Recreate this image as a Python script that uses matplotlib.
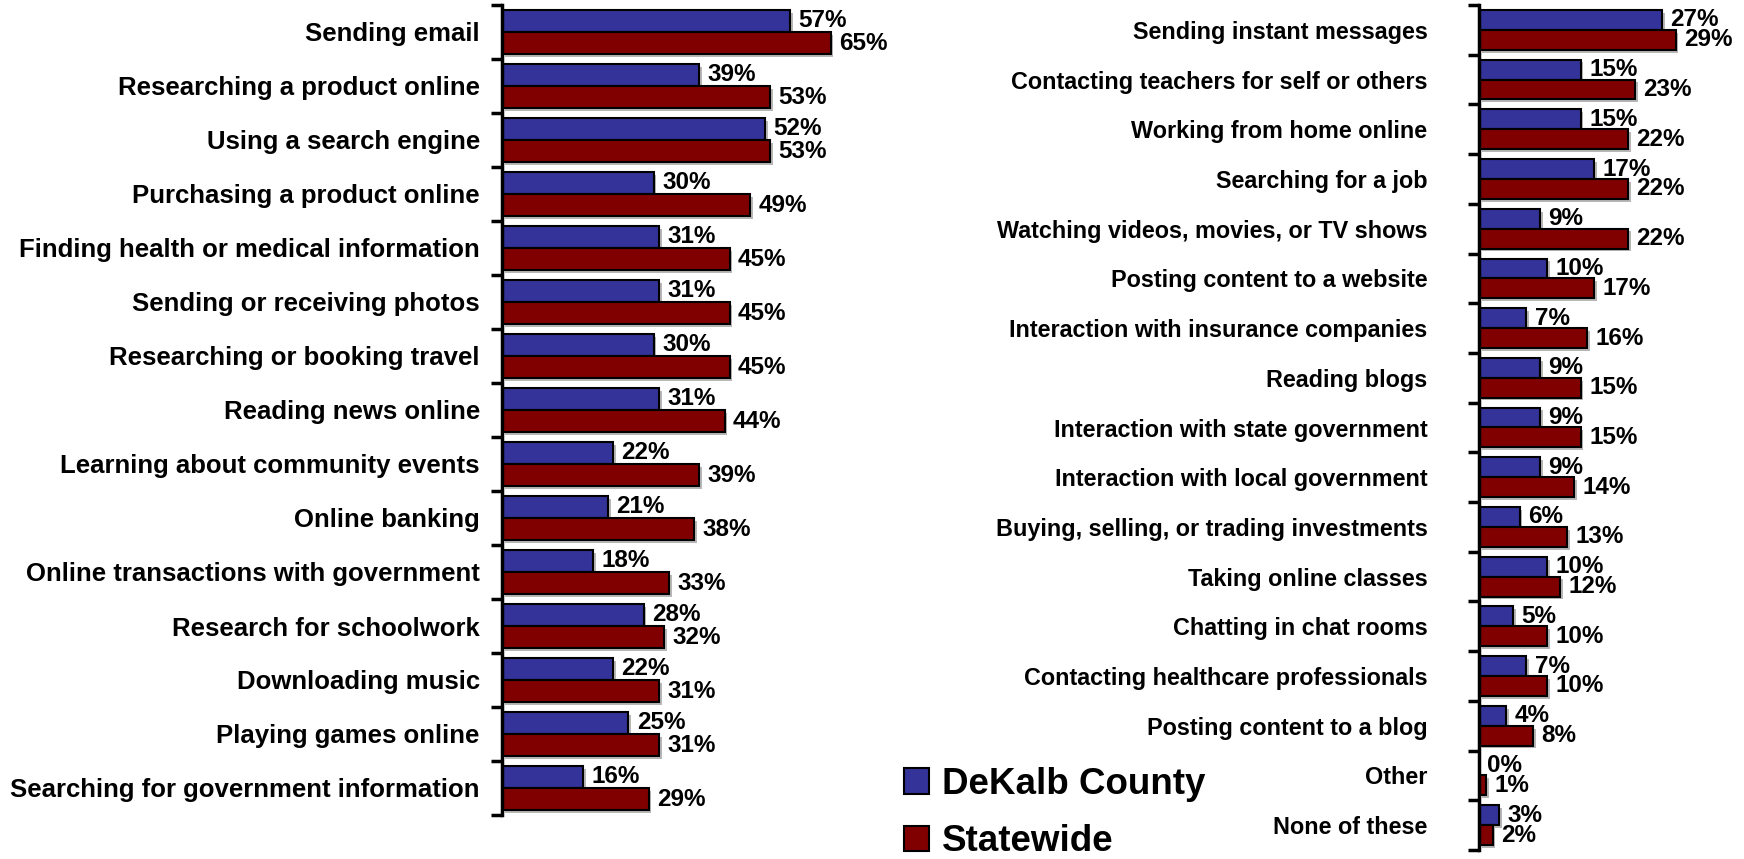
import numpy as np
import matplotlib
matplotlib.use("Agg")
import matplotlib.pyplot as plt
import matplotlib.patheffects as pe
from matplotlib.patches import Patch

plt.rcParams['font.family'] = ['Liberation Sans', 'DejaVu Sans']
plt.rcParams['font.weight'] = 'bold'

# left panel
left_labels = ['Sending email', 'Researching a product online', 'Using a search engine',
               'Purchasing a product online', 'Finding health or medical information',
               'Sending or receiving photos', 'Researching or booking travel',
               'Reading news online', 'Learning about community events', 'Online banking',
               'Online transactions with government', 'Research for schoolwork',
               'Downloading music', 'Playing games online',
               'Searching for government information']
left_dekalb = [57, 39, 52, 30, 31, 31, 30, 31, 22, 21, 18, 28, 22, 25, 16]
left_state = [65, 53, 53, 49, 45, 45, 45, 44, 39, 38, 33, 32, 31, 31, 29]

# right panel
right_labels = ['Sending instant messages', 'Contacting teachers for self or others',
                'Working from home online', 'Searching for a job',
                'Watching videos, movies, or TV shows', 'Posting content to a website',
                'Interaction with insurance companies', 'Reading blogs',
                'Interaction with state government', 'Interaction with local government',
                'Buying, selling, or trading investments', 'Taking online classes',
                'Chatting in chat rooms', 'Contacting healthcare professionals',
                'Posting content to a blog', 'Other', 'None of these']
right_dekalb = [27, 15, 15, 17, 9, 10, 7, 9, 9, 9, 6, 10, 5, 7, 4, 0, 3]
right_state = [29, 23, 22, 22, 22, 17, 16, 15, 15, 14, 13, 12, 10, 10, 8, 1, 2]

series_names = ['DeKalb County', 'Statewide']
colors = ['#333399', '#800000']

W, H = 1744, 859
fig = plt.figure(figsize=(W / 100, H / 100), dpi=100)


def px_axes(x0, y_top, x1, y_bot):
    return fig.add_axes([x0 / W, 1 - y_bot / H, (x1 - x0) / W, (y_bot - y_top) / H])


def draw_panel(ax, labels, a, b, xmax, label_size, label_pad, bar_h):
    n = len(labels)
    y = np.arange(n)
    shadow = [pe.SimplePatchShadow(offset=(2, -2), shadow_rgbFace='#888888', alpha=0.6), pe.Normal()]
    for vals, off, c in [(a, -bar_h / 2, colors[0]), (b, bar_h / 2, colors[1])]:
        bars = ax.barh(y + off, vals, height=bar_h, color=c, edgecolor='black', linewidth=1.5)
        for bar, v in zip(bars, vals):
            bar.set_path_effects(shadow)
            ax.annotate(f'{v}%', (v, bar.get_y() + bar.get_height() / 2),
                        xytext=(6, 0), textcoords='offset points',
                        va='center', ha='left', fontsize=17.5, fontweight='bold')
    ax.set_xlim(0, xmax)
    ax.set_ylim(n - 0.5, -0.5)
    ax.set_yticks(y)
    ax.set_yticklabels(labels, fontsize=label_size, fontweight='bold')
    ax.set_yticks(np.arange(n + 1) - 0.5, minor=True)
    ax.tick_params(axis='y', which='major', length=0, pad=label_pad)
    ax.tick_params(axis='y', which='minor', length=8, width=2.5, direction='out')
    ax.set_xticks([])
    for s in ['top', 'right', 'bottom']:
        ax.spines[s].set_visible(False)
    ax.spines['left'].set_linewidth(2.5)
    ax.patch.set_alpha(0)


ax1 = px_axes(502, 5, 502 + 5.057 * 70, 815)
draw_panel(ax1, left_labels, left_dekalb, left_state, 70, 18.5, 16, 0.41)

ax2 = px_axes(1479, 5, 1479 + 6.78 * 36, 850)
draw_panel(ax2, right_labels, right_dekalb, right_state, 36, 16.8, 37, 0.40)

handles = [Patch(facecolor=c, edgecolor='black', linewidth=1.5) for c in colors]
fig.legend(handles, series_names, loc='upper left', bbox_to_anchor=(904 / W, 1 - 767 / H),
           frameon=False, prop={'size': 26.5, 'weight': 'bold'},
           handlelength=0.68, handleheight=0.68, handletextpad=0.35,
           labelspacing=0.6, borderpad=0, borderaxespad=0)

fig.savefig('out.png', dpi=100)
